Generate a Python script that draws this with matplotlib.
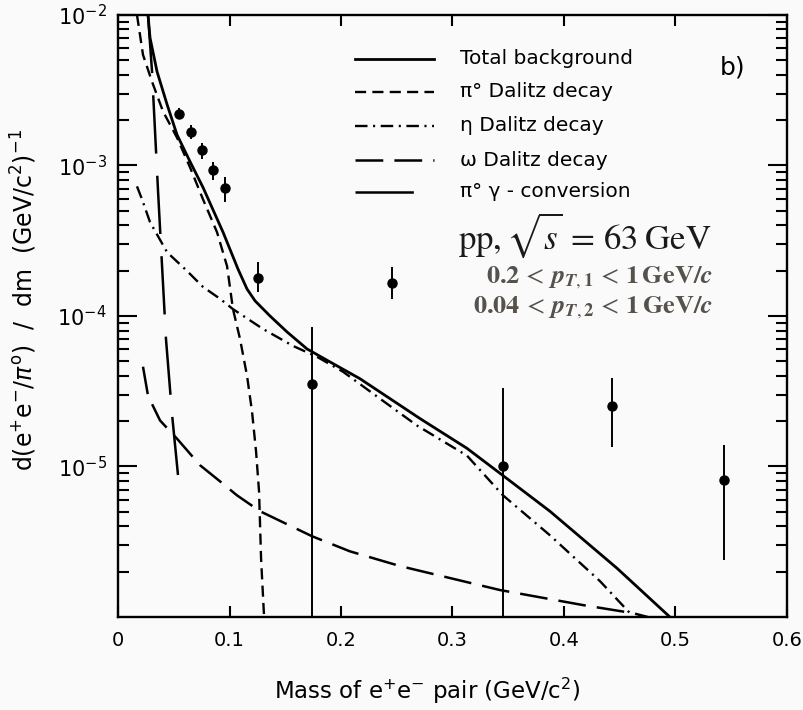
import numpy as np
import matplotlib
matplotlib.use("Agg")
import matplotlib.pyplot as plt
from matplotlib.ticker import LogLocator, NullFormatter, FixedLocator

plt.rcParams['font.family'] = ['DejaVu Sans']
plt.rcParams['mathtext.fontset'] = 'dejavusans'
plt.rcParams['lines.scale_dashes'] = False

# data (mass in GeV/c^2, y in (GeV/c^2)^-1)
total_m = [0.0269, 0.0287, 0.035, 0.044, 0.0529, 0.0646, 0.0762, 0.0942, 0.1076, 0.1157,
           0.1229, 0.1363, 0.1516, 0.1695, 0.1901, 0.217, 0.2709, 0.313, 0.3453, 0.3874,
           0.4475, 0.495]
total_y = [1.0e-2, 7.05e-3, 4.2e-3, 2.54e-3, 1.6e-3, 1.06e-3, 7.15e-4, 3.6e-4, 2.05e-4, 1.51e-4,
           1.26e-4, 1.0e-4, 7.83e-5, 6.04e-5, 4.95e-5, 3.83e-5, 2.08e-5, 1.32e-5, 8.7e-6, 5.04e-6,
           2.11e-6, 1.0e-6]

pi0_m = [0.017, 0.0224, 0.0305, 0.0404, 0.0529, 0.0646, 0.0762, 0.0888, 0.0978, 0.1031,
         0.1094, 0.1157, 0.1202, 0.1238, 0.1265, 0.1283, 0.131]
pi0_y = [1.0e-2, 5.43e-3, 3.6e-3, 2.28e-3, 1.53e-3, 9.7e-4, 5.96e-4, 3.6e-4, 2.14e-4, 1.11e-4,
         7.05e-5, 4.01e-5, 2.31e-5, 1.26e-5, 6.8e-6, 2.45e-6, 1.0e-6]

eta_m = [0.017, 0.0215, 0.0287, 0.044, 0.0619, 0.0762, 0.0915, 0.1031, 0.130, 0.157,
         0.1785, 0.2018, 0.235, 0.2682, 0.313, 0.3453, 0.3874, 0.4323, 0.4592, 0.462]
eta_y = [7.26e-4, 5.96e-4, 4.2e-4, 2.65e-4, 1.99e-4, 1.56e-4, 1.3e-4, 1.11e-4, 8.2e-5, 6.32e-5,
         5.35e-5, 4.26e-5, 2.82e-5, 1.87e-5, 1.18e-5, 6.43e-6, 3.49e-6, 1.73e-6, 1.06e-6, 1.0e-6]

omega_m = [0.0224, 0.0269, 0.0377, 0.0529, 0.0735, 0.0915, 0.1067, 0.1274, 0.174, 0.208,
           0.2529, 0.3426, 0.417, 0.462, 0.475]
omega_y = [4.6e-5, 2.95e-5, 2.02e-5, 1.53e-5, 1.02e-5, 7.96e-6, 6.43e-6, 5.04e-6, 3.44e-6, 2.73e-6,
           2.18e-6, 1.51e-6, 1.2e-6, 1.06e-6, 1.0e-6]

conv_m = [0.0269, 0.0305, 0.0359, 0.0395, 0.043, 0.0484, 0.0547]
conv_y = [1.0e-2, 4.2e-3, 6.73e-4, 2.14e-4, 7.05e-5, 2.24e-5, 7.48e-6]

data_m = [0.055, 0.0655, 0.0756, 0.0855, 0.096, 0.1255, 0.246, 0.174, 0.345, 0.443, 0.5435]
data_y = [2.21e-3, 1.66e-3, 1.26e-3, 9.27e-4, 7.05e-4, 1.79e-4, 1.66e-4, 3.55e-5, 1.0e-5, 2.53e-5, 8.07e-6]
data_hi = [2.42e-3, 1.87e-3, 1.40e-3, 1.05e-3, 8.33e-4, 2.28e-4, 2.11e-4, 8.5e-5, 3.33e-5, 3.9e-5, 1.38e-5]
data_lo = [2.05e-3, 1.49e-3, 1.11e-3, 7.96e-4, 5.69e-4, 1.44e-4, 1.30e-4, 1e-7, 1e-7, 1.34e-5, 2.4e-6]

labels = ["Total background", "π° Dalitz decay", "η Dalitz decay",
          "ω Dalitz decay", "π° γ - conversion"]

bg = '#fafafa'
fig = plt.figure(figsize=(8.04, 7.10), dpi=100, facecolor=bg)
ax = fig.add_axes([0.1468, 0.131, 0.832, 0.848], facecolor=bg)

styles = [
    dict(ls='-', lw=2.0),
    dict(ls=(0, (8, 4.5)), lw=1.7),
    dict(ls=(0, (9, 4, 1.5, 4)), lw=1.7),
    dict(ls=(0, (20, 8)), lw=1.8),
    dict(ls=(0, (42, 16)), lw=1.8),
]
curves = [(total_m, total_y), (pi0_m, pi0_y), (eta_m, eta_y),
          (omega_m, omega_y), (conv_m, conv_y)]
for (m, y), st in zip(curves, styles):
    ax.plot(m, y, color='black', **st)

# data points
yerr = [np.array(data_y) - np.array(data_lo), np.array(data_hi) - np.array(data_y)]
ax.errorbar(data_m, data_y, yerr=yerr, fmt='o', color='black', ms=6.5,
            elinewidth=1.4, capsize=0)

ax.set_yscale('log')
ax.set_xlim(0, 0.6)
ax.set_ylim(1e-6, 1e-2)
ax.set_xticks([0, 0.1, 0.2, 0.3, 0.4, 0.5, 0.6])
ax.set_xticklabels(['0', '0.1', '0.2', '0.3', '0.4', '0.5', '0.6'])
ax.yaxis.set_major_locator(FixedLocator([1e-5, 1e-4, 1e-3, 1e-2]))
ax.yaxis.set_minor_locator(LogLocator(base=10, subs=np.arange(2, 10)))
ax.yaxis.set_minor_formatter(NullFormatter())

ax.tick_params(which='both', direction='in', top=True, right=True, width=1.5)
ax.tick_params(axis='x', which='major', length=8, pad=10, labelsize=14)
ax.tick_params(axis='y', which='major', length=14, pad=8, labelsize=15)
ax.tick_params(axis='y', which='minor', length=8)
for sp in ax.spines.values():
    sp.set_linewidth(1.7)

ax.set_xlabel('Mass of e$^{+}$e$^{-}$ pair (GeV/c$^{2}$)', fontsize=16.5)
ax.xaxis.set_label_coords(0.462, -0.097)
ax.set_ylabel(r'd(e$^{+}$e$^{-}$/$\pi^{\rm o}$)  /  dm  (GeV/c$^{2}$)$^{-1}$', fontsize=17)
ax.yaxis.set_label_coords(-0.118, 0.527)

# legend keys drawn by hand
rows = [0.927, 0.872, 0.816, 0.759, 0.706]
for yy, lab, st in zip(rows, labels, styles):
    ax.plot([0.355, 0.472], [yy, yy], transform=ax.transAxes, color='black', **st)
    ax.text(0.511, yy, lab, transform=ax.transAxes, fontsize=14.5, va='center', ha='left')

ax.text(0.918, 0.912, 'b)', transform=ax.transAxes, fontsize=18, va='center', ha='center')

ax.text(0.888, 0.634, r'$\mathrm{pp},\sqrt{s}\,=\,63\;\mathrm{GeV}$', transform=ax.transAxes,
        fontsize=25, va='center', ha='right', color='#1a1a1a', math_fontfamily='stix')
ax.text(0.889, 0.563,
        r'$\mathbf{0.2}\,<\,\mathbfit{p}_{\mathbfit{T},\mathbf{1}}\,<\,\mathbf{1\,GeV/}\mathbfit{c}$',
        transform=ax.transAxes, fontsize=19, va='center', ha='right', color='#56514b',
        math_fontfamily='stix')
ax.text(0.889, 0.513,
        r'$\mathbf{0.04}\,<\,\mathbfit{p}_{\mathbfit{T},\mathbf{2}}\,<\,\mathbf{1\,GeV/}\mathbfit{c}$',
        transform=ax.transAxes, fontsize=19, va='center', ha='right', color='#56514b',
        math_fontfamily='stix')

fig.savefig('out.png', dpi=100, facecolor=bg)
